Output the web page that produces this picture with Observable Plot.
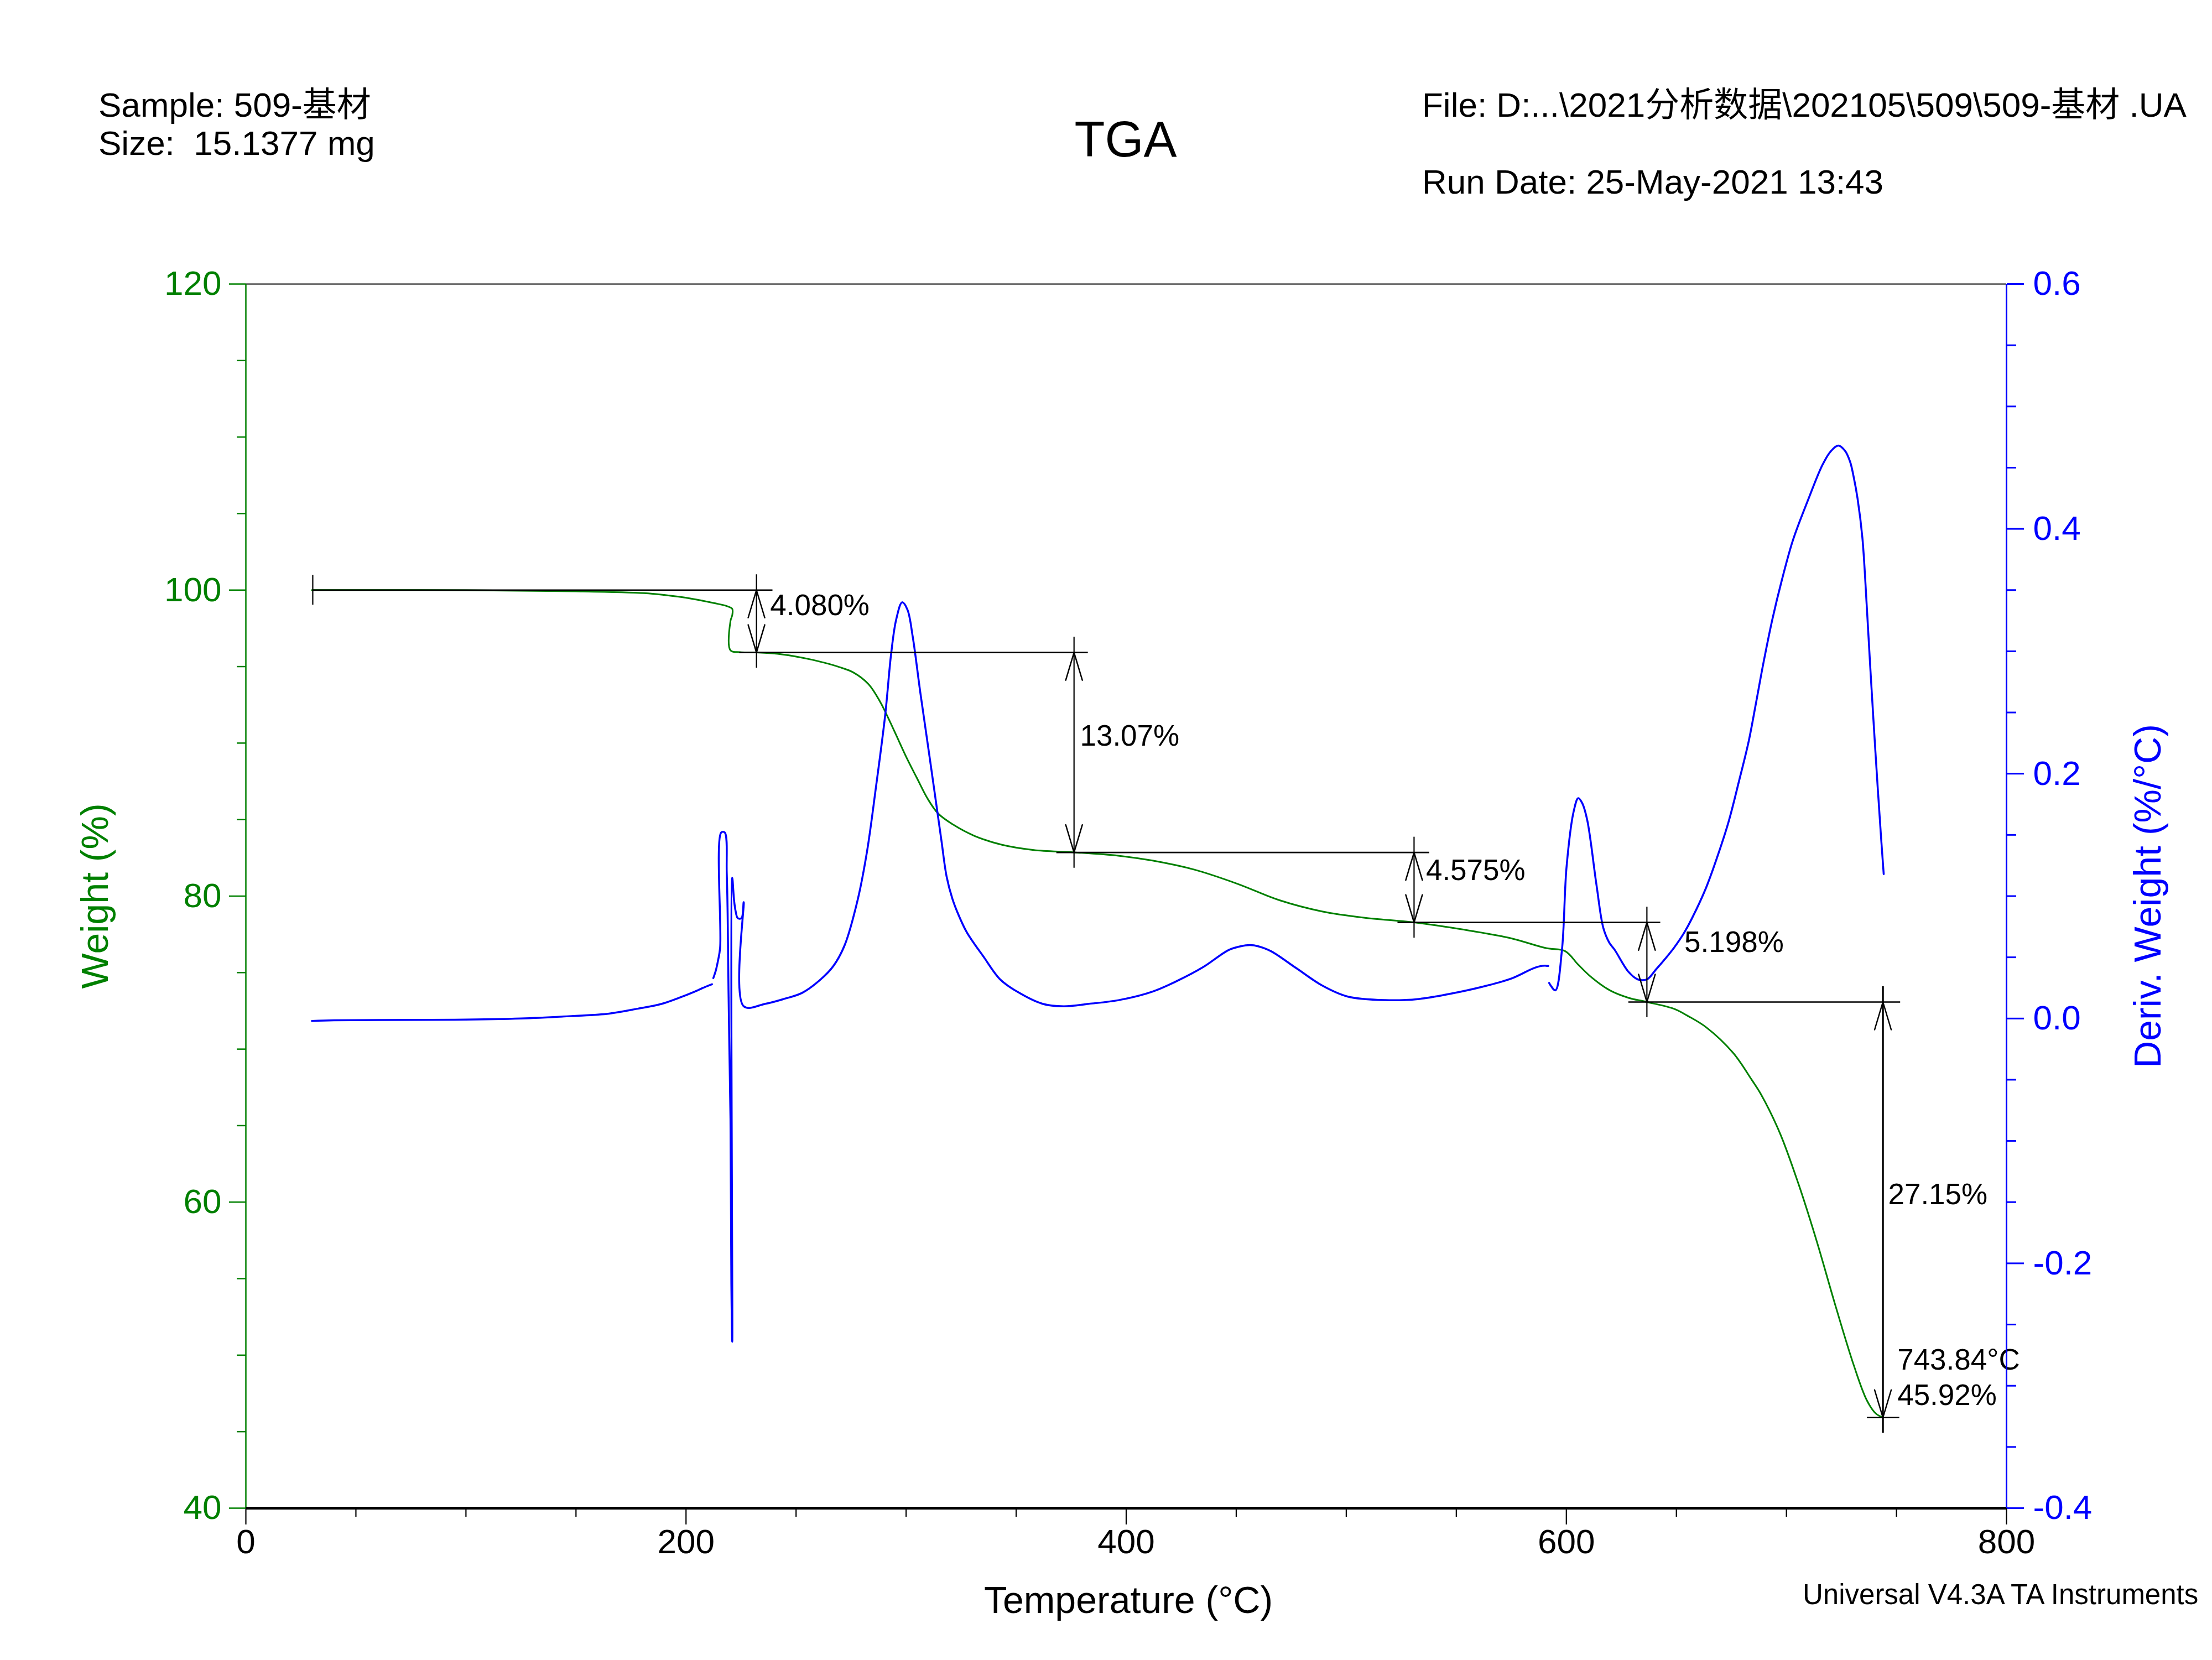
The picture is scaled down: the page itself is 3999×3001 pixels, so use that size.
<!DOCTYPE html>
<html>
<head>
<meta charset="utf-8">
<script src="https://cdn.jsdelivr.net/npm/d3@7"></script>
<script src="https://cdn.jsdelivr.net/npm/@observablehq/plot@0.6"></script>
<style>
html, body { margin: 0; padding: 0; background: #fff; }
#fig { position: relative; width: 3999px; height: 3001px; overflow: hidden;
  font-family: "Liberation Sans", Arial, "Noto Sans CJK SC", sans-serif; color: #000; }
#fig .t { position: absolute; white-space: pre; line-height: 1; }
#chart { position: absolute; left: 0; top: 0; }
</style>
</head>
<body>
<div id="fig">
  <div id="chart"></div>
  <div class="t" style="left:178px;top:159px;font-size:62px">Sample: 509-基材</div>
  <div class="t" style="left:178px;top:228px;font-size:62px">Size:  15.1377 mg</div>
  <div class="t" style="left:2035px;top:207px;font-size:90px;transform:translateX(-50%)">TGA</div>
  <div class="t" style="left:2571px;top:159px;font-size:62px">File: D:...\2021分析数据\202105\509\509-基材 .UA</div>
  <div class="t" style="left:2571px;top:298px;font-size:62px">Run Date: 25-May-2021 13:43</div>
  <div class="t" style="left:3259px;top:2857px;font-size:51px">Universal V4.3A TA Instruments</div>
</div>
<script>
// ---------- data ----------
// Weight (%) versus temperature (°C)
const weightTemps = [30, 100, 150, 181, 190, 202.7, 212.7, 218.6, 221.0, 221.0, 220.2, 220.2, 224.5, 232,
  244, 257.2, 265.5, 270, 276, 283, 288.2, 291.5, 295.4, 300.2, 305, 309.8, 314.6, 321.4, 331, 343.6,
  358, 376.3, 396.4, 412, 431.2, 450.4, 469.7, 489, 508, 530.8, 553.3, 574.1, 590.8, 599.5, 605.4,
  611.6, 619.9, 628.3, 636.6, 649, 655.2, 663.6, 675.8, 684.2, 688.7, 697.1, 705.5, 713.8, 722.2,
  730.6, 736.5, 740.5, 743.84];
const weightValues = [100.0, 99.99, 99.92, 99.8, 99.68, 99.43, 99.15, 98.95, 98.77, 98.36, 97.98, 96.06, 95.94, 95.92,
  95.79, 95.45, 95.15, 94.95, 94.62, 93.84, 92.7, 91.75, 90.55, 89.05, 87.69, 86.36, 85.39, 84.67, 83.94, 83.35,
  83.01, 82.86, 82.64, 82.32, 81.72, 80.81, 79.73, 79.0, 78.59, 78.28, 77.81, 77.27, 76.6, 76.40, 75.52,
  74.67, 73.83, 73.35, 73.08, 72.63, 72.17, 71.42, 69.75, 68.0, 66.98, 64.49, 61.18, 57.43, 53.27,
  49.34, 47.06, 46.2, 45.92];

// Derivative weight (%/°C) versus temperature (°C); null = break in the recorded trace
const derivTemps = [30, 40, 60, 95, 125, 148, 165, 178, 189, 197, 204, 209, 211.8, 211.9,
  212.4, 213.5, 214.5, 215.5, 216.0, 217.6, 218.5, 218.9, 219.3, 219.7, 220.2, 220.6, 221.0, 221.0,
  221.8, 222.5, 223.5, 225.2, 226.2, 226.2, 236, 244.5, 252.8, 261.2, 267, 272.1, 278, 282.2, 286.3,
  290.5, 293.2, 295.5, 298.2, 300.6, 303, 306.4, 311.2, 316, 318.4, 321, 323.5, 327.4, 331, 335,
  342.7, 350.4, 362, 371.6, 383, 396.6, 412, 423.5, 435, 446.6, 452, 456.3, 460, 465.8, 477.4, 489,
  500.5, 517.8, 533.2, 546.7, 562, 575.5, 585, 589, 591.8, 592.0,
  592.2, 595.0, 598.0, 600.1, 603.3, 605.4, 607.2, 609.5, 613.7, 616.8, 619.5, 622, 628.3, 632.4,
  636.6, 640.7, 645, 649, 653.5, 657.4, 663.3, 668, 673.6, 678.6, 682.8, 686.2, 689.5, 693.6, 697.9,
  703, 709.7, 716.3, 720, 723.5, 726.5, 728.9, 730.6, 732.3, 734.5, 736.5, 738, 739.5, 741.5, 743,
  744.2];
const derivValues = [-0.002, -0.0015, -0.0012, -0.001, 0.000, 0.002, 0.004, 0.008, 0.012, 0.017, 0.022, 0.026, 0.028, null,
  0.033, 0.039, 0.047, 0.058, 0.152, 0.152, 0.119, 0.086, 0.023, -0.025, -0.082, -0.217, -0.264, 0.115,
  0.097, 0.088, 0.082, 0.082, 0.095, 0.010, 0.012, 0.016, 0.021, 0.032, 0.043, 0.060, 0.097, 0.136, 0.189,
  0.248, 0.298, 0.326, 0.340, 0.334, 0.312, 0.267, 0.207, 0.146, 0.116, 0.098, 0.086, 0.071, 0.061, 0.051,
  0.032, 0.022, 0.012, 0.010, 0.012, 0.015, 0.022, 0.031, 0.042, 0.056, 0.059, 0.060, 0.059, 0.055, 0.041, 0.027,
  0.018, 0.015, 0.016, 0.020, 0.026, 0.033, 0.041, 0.043, 0.043, null,
  0.029, 0.023, 0.056, 0.124, 0.169, 0.180, 0.176, 0.162, 0.109, 0.074, 0.062, 0.056, 0.038, 0.032,
  0.032, 0.040, 0.049, 0.058, 0.070, 0.083, 0.106, 0.129, 0.160, 0.195, 0.226, 0.258, 0.290, 0.326, 0.358,
  0.391, 0.423, 0.452, 0.463, 0.468, 0.464, 0.455, 0.442, 0.425, 0.393, 0.337, 0.290, 0.245, 0.188, 0.148,
  0.118];

// Step-change analyses
const stepTemps = [232.0, 376.3, 530.8, 636.6, 743.84];
const stepLevels = [100.0, 95.92, 82.85, 78.275, 73.077, 45.92];
const stepLosses = ["4.080%", "13.07%", "4.575%", "5.198%", "27.15%"];
const levelLineStart = [30.4, 224.3, 368.4, 523.4, 628.3, 736.7];
const levelLineEnd = [239.4, 382.7, 537.8, 642.8, 751.8, 751.4];
const lossLabelTemps = [238.2, 379.0, 536.2, 653.6, 746.2];
const lossLabelWeights = [98.96, 90.46, 81.67, 76.97, 60.49];
const endTexts = ["743.84°C", "45.92%"];
const endTextTemps = [750.4, 750.4];
const endTextWeights = [49.66, 47.37];

// Axes
const tempDomain = [0, 800];
const weightDomain = [40, 120];
const derivDomain = [-0.4, 0.6];
const tempMajor = [0, 200, 400, 600, 800];
const tempMinor = [50, 100, 150, 250, 300, 350, 450, 500, 550, 650, 700, 750];
const weightMajor = [40, 60, 80, 100, 120];
const weightMinor = [45, 50, 55, 65, 70, 75, 85, 90, 95, 105, 110, 115];
const derivMajor = [-0.4, -0.2, 0.0, 0.2, 0.4, 0.6];
const derivMinor = [-0.35, -0.3, -0.25, -0.15, -0.1, -0.05, 0.05, 0.1, 0.15, 0.25, 0.3, 0.35, 0.45, 0.5, 0.55];

// ---------- build ----------
const GREEN = "#008000", BLUE = "#0000ff", BLACK = "#000000";
const [wMin, wMax] = weightDomain, [dMin, dMax] = derivDomain;
const derivToW = d => wMin + (d - dMin) / (dMax - dMin) * (wMax - wMin);
const wToDeriv = w => dMin + (w - wMin) / (wMax - wMin) * (dMax - dMin);
const fmtDeriv = w => { const r = Math.round(wToDeriv(w) * 10) / 10; return (r < 0 ? "-" : "") + Math.abs(r).toFixed(1); };

const weightRows = weightTemps.map((T, i) => ({T, W: weightValues[i]}));
const derivRows = derivTemps.map((T, i) => ({T, W: derivValues[i] == null ? NaN : derivToW(derivValues[i])}));
const stepRows = stepTemps.map((T, i) => ({T, top: stepLevels[i], bottom: stepLevels[i + 1]}));
const levelRows = stepLevels.map((W, i) => ({W, x1: levelLineStart[i], x2: levelLineEnd[i]}));
const lossLabels = stepLosses.map((text, i) => ({text, T: lossLabelTemps[i], W: lossLabelWeights[i]}));
const endLabels = endTexts.map((text, i) => ({text, T: endTextTemps[i], W: endTextWeights[i]}));
const upHeads = stepRows.map(d => ({T: d.T, W: d.top}));
const downHeads = stepRows.map(d => ({T: d.T, W: d.bottom}));

const arrowHead = { draw(ctx, l) { const w = l * 0.3; ctx.moveTo(-w, l); ctx.lineTo(0, 0); ctx.lineTo(w, l); } };

const chart = Plot.plot({
  width: 3999,
  height: 3001,
  marginLeft: 444,
  marginRight: 372,
  marginTop: 513,
  marginBottom: 275,
  x: {domain: tempDomain, label: null},
  y: {domain: weightDomain, label: null},
  style: {fontFamily: "'Liberation Sans', Arial, sans-serif", background: "white", color: "black"},
  marks: [
    // curves
    Plot.line(weightRows, {x: "T", y: "W", stroke: GREEN, strokeWidth: 3, curve: "catmull-rom"}),
    Plot.line(derivRows, {x: "T", y: "W", stroke: BLUE, strokeWidth: 3.5, curve: "catmull-rom"}),
    // step annotations
    Plot.ruleY(levelRows, {y: "W", x1: "x1", x2: "x2", stroke: BLACK, strokeWidth: 2.7}),
    Plot.ruleX(stepRows, {x: "T", y1: "top", y2: "bottom", insetTop: -28, insetBottom: -28, stroke: BLACK,
      strokeWidth: (d, i) => (i === stepRows.length - 1 ? 3.4 : 2.2)}),
    Plot.ruleX([levelRows[0]], {x: "x1", y1: "W", y2: "W", insetTop: -27, insetBottom: -27, stroke: BLACK, strokeWidth: 2.2}),
    Plot.vector(upHeads, {x: "T", y: "W", length: 50, rotate: 0, anchor: "start", shape: arrowHead, stroke: BLACK, strokeWidth: 2.5}),
    Plot.vector(downHeads, {x: "T", y: "W", length: 50, rotate: 180, anchor: "start", shape: arrowHead, stroke: BLACK, strokeWidth: 2.5}),
    Plot.text(lossLabels, {x: "T", y: "W", text: "text", textAnchor: "start", lineAnchor: "middle", fontSize: 53, fill: BLACK}),
    Plot.text(endLabels, {x: "T", y: "W", text: "text", textAnchor: "start", lineAnchor: "middle", fontSize: 53, fill: BLACK}),
    // frame lines
    Plot.ruleY([wMax], {stroke: BLACK, strokeWidth: 2.2}),
    Plot.ruleX([tempDomain[0]], {stroke: GREEN, strokeWidth: 2.5}),
    Plot.ruleX([tempDomain[1]], {stroke: BLUE, strokeWidth: 3}),
    Plot.ruleY([wMin], {stroke: BLACK, strokeWidth: 5}),
    // axes
    Plot.axisX(tempMajor, {anchor: "bottom", tickSize: 30, tickPadding: 7, fontSize: 62, stroke: BLACK, fill: BLACK, strokeWidth: 2.2, label: null, tickFormat: d => String(d)}),
    Plot.axisX(tempMinor, {anchor: "bottom", tickSize: 16, stroke: BLACK, strokeWidth: 2.2, label: null, tickFormat: () => ""}),
    Plot.axisY(weightMajor, {anchor: "left", tickSize: 30, tickPadding: 14, fontSize: 62, stroke: GREEN, fill: GREEN, strokeWidth: 2.5, label: null, tickFormat: d => String(d)}),
    Plot.axisY(weightMinor, {anchor: "left", tickSize: 16, stroke: GREEN, strokeWidth: 2.5, label: null, tickFormat: () => ""}),
    Plot.axisY(derivMajor.map(derivToW), {anchor: "right", tickSize: 31, tickPadding: 17, fontSize: 62, stroke: BLUE, fill: BLUE, strokeWidth: 3, label: null, tickFormat: fmtDeriv}),
    Plot.axisY(derivMinor.map(derivToW), {anchor: "right", tickSize: 17, stroke: BLUE, strokeWidth: 3, label: null, tickFormat: () => ""}),
    // axis titles
    Plot.text(["Temperature (°C)"], {text: d => d, frameAnchor: "bottom", dx: 4, dy: 168, fontSize: 68, fill: BLACK, textAnchor: "middle", lineAnchor: "middle"}),
    Plot.text(["Weight (%)"], {text: d => d, frameAnchor: "left", dx: -271, rotate: -90, fontSize: 68, fill: GREEN, textAnchor: "middle", lineAnchor: "middle"}),
    Plot.text(["Deriv. Weight (%/°C)"], {text: d => d, frameAnchor: "right", dx: 257, rotate: -90, fontSize: 68, fill: BLUE, textAnchor: "middle", lineAnchor: "middle"})
  ]
});
document.getElementById("chart").appendChild(chart);
</script>
</body>
</html>
